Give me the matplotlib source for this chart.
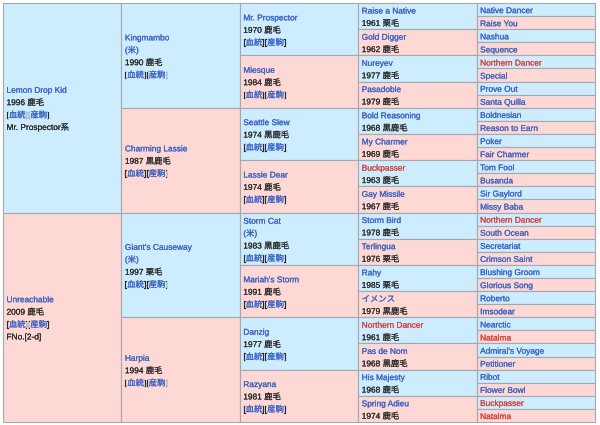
import matplotlib
matplotlib.use("Agg")
import matplotlib.pyplot as plt
import matplotlib.patheffects as pe
from matplotlib.patches import Rectangle

plt.rcParams['font.family'] = ['Liberation Sans', 'Noto Sans CJK JP']

# pedigree data, one list per generation
gen1_names = ["Lemon Drop Kid", "Unreachable"]
gen1_years = ["1996 鹿毛", "2009 鹿毛"]
gen1_extra = ["Mr. Prospector系", "FNo.[2-d]"]

gen2_names = ["Kingmambo", "Charming Lassie", "Giant's Causeway", "Harpia"]
gen2_origin = ["(米)", "", "(米)", ""]
gen2_years = ["1990 鹿毛", "1987 黒鹿毛", "1997 栗毛", "1994 鹿毛"]

gen3_names = ["Mr. Prospector", "Miesque", "Seattle Slew", "Lassie Dear",
              "Storm Cat", "Mariah's Storm", "Danzig", "Razyana"]
gen3_origin = ["", "", "", "", "(米)", "", "", ""]
gen3_years = ["1970 鹿毛", "1984 鹿毛", "1974 黒鹿毛", "1974 鹿毛",
              "1983 黒鹿毛", "1991 鹿毛", "1977 鹿毛", "1981 鹿毛"]

gen4_names = ["Raise a Native", "Gold Digger", "Nureyev", "Pasadoble",
              "Bold Reasoning", "My Charmer", "Buckpasser", "Gay Missile",
              "Storm Bird", "Terlingua", "Rahy", "イメンス",
              "Northern Dancer", "Pas de Nom", "His Majesty", "Spring Adieu"]
gen4_years = ["1961 栗毛", "1962 鹿毛", "1977 鹿毛", "1979 鹿毛",
              "1968 黒鹿毛", "1969 鹿毛", "1963 鹿毛", "1967 鹿毛",
              "1978 鹿毛", "1976 栗毛", "1985 栗毛", "1979 黒鹿毛",
              "1961 鹿毛", "1968 黒鹿毛", "1968 鹿毛", "1974 鹿毛"]

gen5_names = ["Native Dancer", "Raise You", "Nashua", "Sequence",
              "Northern Dancer", "Special", "Prove Out", "Santa Quilla",
              "Boldnesian", "Reason to Earn", "Poker", "Fair Charmer",
              "Tom Fool", "Busanda", "Sir Gaylord", "Missy Baba",
              "Northern Dancer", "South Ocean", "Secretariat", "Crimson Saint",
              "Blushing Groom", "Glorious Song", "Roberto", "Imsodear",
              "Nearctic", "Natalma", "Admiral's Voyage", "Petitioner",
              "Ribot", "Flower Bowl", "Buckpasser", "Natalma"]

# inbreeding names shown in red
highlight = ["Northern Dancer", "Natalma", "Buckpasser"]

BLUE_BG = "#cdecfe"
PINK_BG = "#fdd8d4"
BORDER = "#a2a9b1"
LINK = "#3a62c4"
RED = "#d6413d"
BLACK = "#2a2a2a"

LINKS = [("[", BLACK), ("血統", LINK), ("][", BLACK), ("産駒", LINK), ("]", BLACK)]


def name_seg(name):
    return [(name, RED if name in highlight else LINK)]


def build_cells():
    cols = []
    cols.append([[name_seg(n), [(y, BLACK)], LINKS, [(e, BLACK)]]
                 for n, y, e in zip(gen1_names, gen1_years, gen1_extra)])
    for names, origin, years in [(gen2_names, gen2_origin, gen2_years),
                                 (gen3_names, gen3_origin, gen3_years)]:
        col = []
        for n, o, y in zip(names, origin, years):
            lines = [name_seg(n)]
            if o:
                lines.append([(o, LINK)])
            lines += [[(y, BLACK)], LINKS]
            col.append(lines)
        cols.append(col)
    cols.append([[name_seg(n), [(y, BLACK)]] for n, y in zip(gen4_names, gen4_years)])
    cols.append([[name_seg(n)] for n in gen5_names])
    return cols


fig = plt.figure(figsize=(6, 4.25), dpi=100)
ax = fig.add_axes([0, 0, 1, 1])
ax.set_xlim(0, 600)
ax.set_ylim(425, 0)
ax.axis("off")
renderer = fig.canvas.get_renderer()

left, top = 3, 3
width, height = 592, 419
col_w = width / 5
line_h = 12.4
fs = 6.0

for g, col in enumerate(build_cells()):
    cell_h = height / len(col)
    x0 = left + g * col_w
    for i, lines in enumerate(col):
        y0 = top + i * cell_h
        ax.add_patch(Rectangle((x0, y0), col_w, cell_h,
                               facecolor=BLUE_BG if i % 2 == 0 else PINK_BG,
                               edgecolor=BORDER, linewidth=0.8))
        yc = y0 + cell_h / 2
        n = len(lines)
        for k, segs in enumerate(lines):
            ty = yc + (k - (n - 1) / 2) * line_h + 3.6
            tx = x0 + 3.5
            for txt, colr in segs:
                t = ax.text(tx, ty, txt, fontsize=fs, color=colr,
                            ha="left", va="baseline",
                            path_effects=[pe.withStroke(linewidth=0.12, foreground=colr)])
                tx += t.get_window_extent(renderer).width

fig.savefig("out.png", dpi=100)
